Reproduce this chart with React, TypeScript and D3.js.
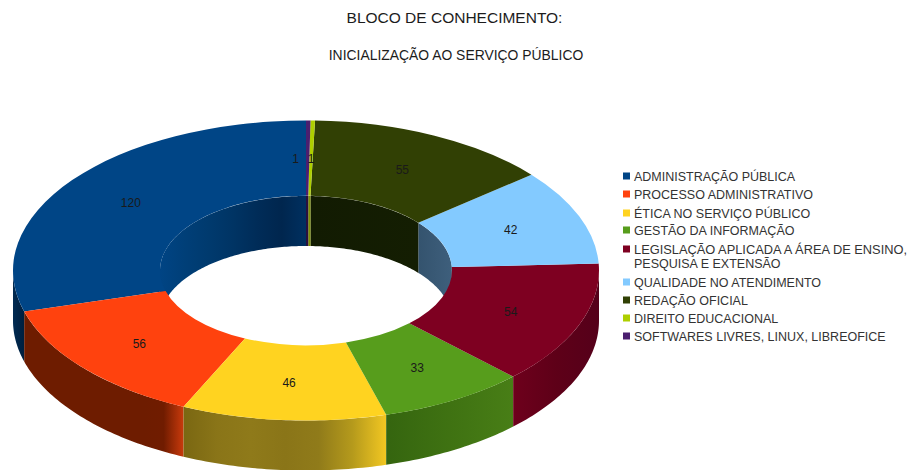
import React from "react";
import * as d3 from "d3";

const categories = ["ADMINISTRAÇÃO PÚBLICA", "PROCESSO ADMINISTRATIVO", "ÉTICA NO SERVIÇO PÚBLICO", "GESTÃO DA INFORMAÇÃO", "LEGISLAÇÃO APLICADA A ÁREA DE ENSINO,|PESQUISA E EXTENSÃO", "QUALIDADE NO ATENDIMENTO", "REDAÇÃO OFICIAL", "DIREITO EDUCACIONAL", "SOFTWARES LIVRES, LINUX, LIBREOFICE"];
const values = [120, 56, 46, 33, 54, 42, 55, 1, 1];
const colors = ["#004586", "#ff420e", "#ffd320", "#579d1c", "#7e0021", "#83caff", "#314004", "#aecf00", "#4b1f6f"];
const outerWallStops: string[][] = [
  ["#002a52", "#001f3e"],
  ["#6e1c00", "#6e1c00", "#6e1c00", "#6e1c00", "#6e1c00", "#6e1c00", "#6e1c00", "#701c00", "#c93a0c"],
  ["#7a6712", "#8a7518", "#8f7a1a", "#8a7518", "#907b1a", "#b59a1c", "#f2c722"],
  ["#35650f", "#3f7212", "#487e16"],
  ["#6e001c", "#5e0018", "#55001a"],
  ["#3f5f7a", "#3f5f7a"], ["#1c2602", "#1c2602"], ["#6b7f00", "#6b7f00"], ["#2e1044", "#2e1044"],
];
const innerWallStops: string[][] = [
  ["#004484", "#003f78", "#003a6e", "#003464", "#002c58", "#00264e", "#003060"],
  ["#6e1c00", "#6e1c00"], ["#7a6712", "#7a6712"], ["#35650f", "#35650f"], ["#5e0018", "#5e0018"],
  ["#34536e", "#3e5f7c"],
  ["#121b02", "#141e02"],
  ["#7b8f00", "#7b8f00"],
  ["#2a1040", "#2a1040"],
];
const labelNudgeX = [0, 0, 0, 0, 0, 0, 0, 0, -12];
const titleLines = ["BLOCO DE CONHECIMENTO:", "INICIALIZAÇÃO AO SERVIÇO PÚBLICO"];
const titleSizes = [15.5, 13.9];
const titleX = [454.5, 456];
const titleY = [23, 60];
const legendY = [176, 194, 213, 230, 249, 282, 300, 318, 336];

const W = 909, H = 470;
const cx = 306, cy = 270.5, RX = 293, RY = 150, rx = 146, ry = 74.5, depth = 50;
const font = "'Liberation Sans', Arial, sans-serif";

const pie = d3.pie<number>().sort(null).startAngle(2 * Math.PI).endAngle(0);
const arcs = pie(values);
const arcGen = d3.arc<d3.PieArcDatum<number>>().innerRadius(rx).outerRadius(RX);
const yScale = RY / RX;

function pt(a: number, rX: number, rY: number, dy = 0): [number, number] {
  return [cx + rX * Math.sin(a), cy - rY * Math.cos(a) + dy];
}

function wall(a0: number, a1: number, rX: number, rY: number) {
  const n = Math.max(2, Math.ceil(Math.abs(a1 - a0) * 60));
  const as = d3.range(n + 1).map((i) => a0 + ((a1 - a0) * i) / n);
  const top = as.map((a) => pt(a, rX, rY));
  const bot = as.slice().reverse().map((a) => pt(a, rX, rY, depth));
  return d3.line()([...top, ...bot])! + "Z";
}

const TAU = 2 * Math.PI;
function visibleOuter(d: d3.PieArcDatum<number>) {
  const lo = Math.max(d.endAngle, Math.PI / 2), hi = Math.min(d.startAngle, (3 * Math.PI) / 2);
  return hi > lo ? [lo, hi] : null;
}
function visibleInner(d: d3.PieArcDatum<number>): [number, number][] {
  const res: [number, number][] = [];
  const lo1 = Math.max(d.endAngle, 0), hi1 = Math.min(d.startAngle, Math.PI / 2);
  if (hi1 > lo1) res.push([lo1, hi1]);
  const lo2 = Math.max(d.endAngle, (3 * Math.PI) / 2), hi2 = Math.min(d.startAngle, TAU);
  if (hi2 > lo2) res.push([lo2, hi2]);
  return res;
}

function Grad({ id, a, b, rX, stops }: { id: string; a: number; b: number; rX: number; stops: string[] }) {
  const x1 = cx + rX * Math.sin(a), x2 = cx + rX * Math.sin(b);
  return (
    <linearGradient id={id} gradientUnits="userSpaceOnUse" x1={Math.min(x1, x2)} x2={Math.max(x1, x2)} y1={0} y2={0}>
      {stops.map((c, i) => <stop key={i} offset={stops.length > 1 ? i / (stops.length - 1) : 0} stopColor={c} />)}
    </linearGradient>
  );
}

export default function App() {
  return (
    <svg width={W} height={H} viewBox={`0 0 ${W} ${H}`} style={{ position: "absolute", left: 0, top: 0, background: "#fff" }} fontFamily={font}>
      <defs>
        {arcs.map((d, i) => {
          const v = visibleOuter(d);
          return v ? <Grad key={i} id={`o${i}`} a={v[0]} b={v[1]} rX={RX} stops={outerWallStops[i]} /> : null;
        })}
        {arcs.map((d, i) =>
          visibleInner(d).map((v, j) => <Grad key={`${i}-${j}`} id={`i${i}-${j}`} a={v[0]} b={v[1]} rX={rx} stops={innerWallStops[i]} />)
        )}
      </defs>

      {titleLines.map((t, i) => (
        <text key={i} x={titleX[i]} y={titleY[i]} textAnchor="middle" fontSize={titleSizes[i]} fill="#1c1c1c">{t}</text>
      ))}

      <g>
        {arcs.map((d, i) =>
          visibleInner(d).map((v, j) => <path key={`${i}-${j}`} d={wall(v[0], v[1], rx, ry)} fill={`url(#i${i}-${j})`} />)
        )}
        {arcs.map((d, i) => {
          const v = visibleOuter(d);
          return v ? <path key={i} d={wall(v[0], v[1], RX, RY)} fill={`url(#o${i})`} /> : null;
        })}
        <g transform={`translate(${cx},${cy}) scale(1,${yScale})`}>
          {arcs.map((d, i) => <path key={i} d={arcGen(d)!} fill={colors[i]} />)}
        </g>
      </g>

      {arcs.map((d, i) => {
        const mid = (d.startAngle + d.endAngle) / 2;
        const [x, y] = pt(mid, (RX + rx) / 2, (RY + ry) / 2);
        return (
          <text key={i} x={x + labelNudgeX[i]} y={y + 4.5} textAnchor="middle" fontSize={12} fill="#1a1a1a">{d.value}</text>
        );
      })}

      {categories.map((c, i) => {
        const lines = c.split("|");
        return (
          <g key={i}>
            <rect x={623} y={legendY[i] - 3.5} width={7} height={7} fill={colors[i]} />
            {lines.map((l, j) => (
              <text key={j} x={634} y={legendY[i] + 4.5 + j * 14} fontSize={12.5} fill="#333"
                {...(l.length > 35 && lines.length > 1 ? { textLength: 273, lengthAdjust: "spacingAndGlyphs" } : {})}>{l}</text>
            ))}
          </g>
        );
      })}
    </svg>
  );
}
